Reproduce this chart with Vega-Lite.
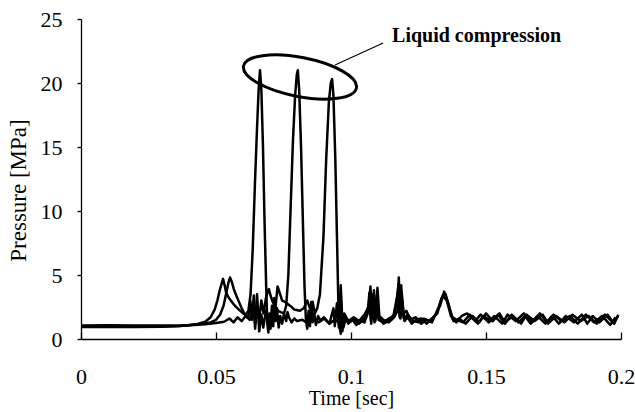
{
  "$schema": "https://vega.github.io/schema/vega-lite/v6.json",
  "width": 540,
  "height": 320,
  "autosize": {"type": "none"},
  "padding": {"left": 81, "top": 19, "right": 14, "bottom": 73},
  "background": "white",
  "config": {
    "view": {"stroke": null},
    "font": "Liberation Serif",
    "axis": {
      "labelColor": "black",
      "titleColor": "black",
      "domainColor": "black",
      "tickColor": "black",
      "grid": false,
      "titleFontWeight": "normal",
      "domainWidth": 1.3,
      "tickWidth": 1.3
    }
  },
  "layer": [
    {
      "data": {
        "values": [
          {"run": "A", "t": 0, "p": 1.0}, {"run": "A", "t": 0.01, "p": 1.0}, {"run": "A", "t": 0.02, "p": 1.0}, {"run": "A", "t": 0.03, "p": 1.0},
          {"run": "A", "t": 0.036, "p": 1.02}, {"run": "A", "t": 0.04, "p": 1.08}, {"run": "A", "t": 0.043, "p": 1.15}, {"run": "A", "t": 0.046, "p": 1.35},
          {"run": "A", "t": 0.048, "p": 1.7}, {"run": "A", "t": 0.0495, "p": 2.3}, {"run": "A", "t": 0.0505, "p": 3.0}, {"run": "A", "t": 0.0515, "p": 3.9},
          {"run": "A", "t": 0.0526, "p": 4.7}, {"run": "A", "t": 0.0532, "p": 4.2}, {"run": "A", "t": 0.0538, "p": 3.6}, {"run": "A", "t": 0.0545, "p": 3.3},
          {"run": "A", "t": 0.0555, "p": 3.0}, {"run": "A", "t": 0.057, "p": 2.6}, {"run": "A", "t": 0.0585, "p": 2.3}, {"run": "A", "t": 0.06, "p": 2.0},
          {"run": "A", "t": 0.061, "p": 1.9}, {"run": "A", "t": 0.062, "p": 2.2}, {"run": "A", "t": 0.0628, "p": 3.5}, {"run": "A", "t": 0.0636, "p": 7},
          {"run": "A", "t": 0.0644, "p": 12}, {"run": "A", "t": 0.0652, "p": 16.5}, {"run": "A", "t": 0.0658, "p": 19.5}, {"run": "A", "t": 0.0663, "p": 21.0},
          {"run": "A", "t": 0.0668, "p": 19.5}, {"run": "A", "t": 0.0674, "p": 15}, {"run": "A", "t": 0.068, "p": 9}, {"run": "A", "t": 0.0686, "p": 4},
          {"run": "A", "t": 0.069, "p": 1.2}, {"run": "A", "t": 0.0694, "p": 0.5}, {"run": "A", "t": 0.0698, "p": 2.0}, {"run": "A", "t": 0.0702, "p": 0.8},
          {"run": "A", "t": 0.0707, "p": 2.6}, {"run": "A", "t": 0.0712, "p": 1.0}, {"run": "A", "t": 0.0716, "p": 3.2}, {"run": "A", "t": 0.0721, "p": 1.4},
          {"run": "A", "t": 0.0726, "p": 2.4}, {"run": "A", "t": 0.0732, "p": 0.9}, {"run": "A", "t": 0.0738, "p": 1.8}, {"run": "A", "t": 0.0745, "p": 1.2},
          {"run": "A", "t": 0.0752, "p": 2.0}, {"run": "A", "t": 0.076, "p": 1.4}, {"run": "A", "t": 0.0765, "p": 2.1}, {"run": "A", "t": 0.077, "p": 1.7}, {"run": "A", "t": 0.078, "p": 1.3},
          {"run": "A", "t": 0.079, "p": 1.6}, {"run": "A", "t": 0.08, "p": 1.4}, {"run": "A", "t": 0.082, "p": 1.5}, {"run": "A", "t": 0.084, "p": 1.2},
          {"run": "A", "t": 0.086, "p": 1.6}, {"run": "A", "t": 0.088, "p": 1.3}, {"run": "A", "t": 0.09, "p": 1.7}, {"run": "A", "t": 0.092, "p": 1.2},
          {"run": "A", "t": 0.0935, "p": 2.4}, {"run": "A", "t": 0.094, "p": 1.0}, {"run": "A", "t": 0.0948, "p": 2.8}, {"run": "A", "t": 0.0955, "p": 0.9},
          {"run": "A", "t": 0.0962, "p": 4.2}, {"run": "A", "t": 0.0968, "p": 1.3}, {"run": "A", "t": 0.0975, "p": 2.0}, {"run": "A", "t": 0.099, "p": 1.4},
          {"run": "A", "t": 0.101, "p": 1.7}, {"run": "A", "t": 0.103, "p": 1.4}, {"run": "A", "t": 0.105, "p": 1.9}, {"run": "A", "t": 0.1065, "p": 2.5},
          {"run": "A", "t": 0.1072, "p": 4.1}, {"run": "A", "t": 0.1078, "p": 1.6}, {"run": "A", "t": 0.1085, "p": 3.8}, {"run": "A", "t": 0.109, "p": 1.5},
          {"run": "A", "t": 0.1098, "p": 4.0}, {"run": "A", "t": 0.1105, "p": 1.8}, {"run": "A", "t": 0.112, "p": 1.5}, {"run": "A", "t": 0.114, "p": 1.3},
          {"run": "A", "t": 0.116, "p": 1.7}, {"run": "A", "t": 0.1172, "p": 2.2}, {"run": "A", "t": 0.1177, "p": 4.8}, {"run": "A", "t": 0.1182, "p": 2.0},
          {"run": "A", "t": 0.1188, "p": 3.6}, {"run": "A", "t": 0.1195, "p": 1.6}, {"run": "A", "t": 0.121, "p": 1.9}, {"run": "A", "t": 0.123, "p": 1.4},
          {"run": "A", "t": 0.125, "p": 1.3}, {"run": "A", "t": 0.127, "p": 1.6}, {"run": "A", "t": 0.129, "p": 1.4}, {"run": "A", "t": 0.131, "p": 1.8},
          {"run": "A", "t": 0.133, "p": 2.6}, {"run": "A", "t": 0.1345, "p": 3.7}, {"run": "A", "t": 0.136, "p": 2.8}, {"run": "A", "t": 0.1375, "p": 1.6},
          {"run": "A", "t": 0.139, "p": 1.3}, {"run": "A", "t": 0.141, "p": 1.8}, {"run": "A", "t": 0.143, "p": 2.0}, {"run": "A", "t": 0.146, "p": 1.4},
          {"run": "A", "t": 0.148, "p": 1.9}, {"run": "A", "t": 0.151, "p": 1.3}, {"run": "A", "t": 0.153, "p": 1.8}, {"run": "A", "t": 0.156, "p": 1.2},
          {"run": "A", "t": 0.158, "p": 1.9}, {"run": "A", "t": 0.161, "p": 1.4}, {"run": "A", "t": 0.164, "p": 2.0}, {"run": "A", "t": 0.167, "p": 1.3},
          {"run": "A", "t": 0.169, "p": 1.8}, {"run": "A", "t": 0.172, "p": 1.2}, {"run": "A", "t": 0.175, "p": 1.9}, {"run": "A", "t": 0.178, "p": 1.4},
          {"run": "A", "t": 0.181, "p": 1.8}, {"run": "A", "t": 0.184, "p": 1.2}, {"run": "A", "t": 0.187, "p": 1.9}, {"run": "A", "t": 0.19, "p": 1.3},
          {"run": "A", "t": 0.193, "p": 1.8}, {"run": "A", "t": 0.196, "p": 1.1}, {"run": "A", "t": 0.198, "p": 1.7},

          {"run": "B", "t": 0, "p": 0.94}, {"run": "B", "t": 0.01, "p": 0.93}, {"run": "B", "t": 0.02, "p": 0.94}, {"run": "B", "t": 0.03, "p": 0.95},
          {"run": "B", "t": 0.037, "p": 1.02}, {"run": "B", "t": 0.041, "p": 1.12}, {"run": "B", "t": 0.045, "p": 1.2}, {"run": "B", "t": 0.048, "p": 1.3},
          {"run": "B", "t": 0.05, "p": 1.5}, {"run": "B", "t": 0.0515, "p": 1.9}, {"run": "B", "t": 0.0528, "p": 2.6}, {"run": "B", "t": 0.0538, "p": 3.6},
          {"run": "B", "t": 0.0546, "p": 4.4}, {"run": "B", "t": 0.0552, "p": 4.8}, {"run": "B", "t": 0.0558, "p": 4.5}, {"run": "B", "t": 0.0566, "p": 3.9},
          {"run": "B", "t": 0.0575, "p": 3.4}, {"run": "B", "t": 0.0585, "p": 2.9}, {"run": "B", "t": 0.0595, "p": 2.4}, {"run": "B", "t": 0.0605, "p": 2.0},
          {"run": "B", "t": 0.0613, "p": 1.7}, {"run": "B", "t": 0.062, "p": 1.8}, {"run": "B", "t": 0.0627, "p": 3.0}, {"run": "B", "t": 0.0633, "p": 1.5},
          {"run": "B", "t": 0.064, "p": 3.4}, {"run": "B", "t": 0.0646, "p": 1.2}, {"run": "B", "t": 0.0652, "p": 2.6}, {"run": "B", "t": 0.066, "p": 1.6},
          {"run": "B", "t": 0.0668, "p": 3.0}, {"run": "B", "t": 0.0676, "p": 2.0}, {"run": "B", "t": 0.0685, "p": 3.2}, {"run": "B", "t": 0.069, "p": 3.6},
          {"run": "B", "t": 0.0696, "p": 3.9}, {"run": "B", "t": 0.0702, "p": 3.4}, {"run": "B", "t": 0.071, "p": 2.9}, {"run": "B", "t": 0.072, "p": 2.5},
          {"run": "B", "t": 0.073, "p": 2.2}, {"run": "B", "t": 0.074, "p": 2.1}, {"run": "B", "t": 0.0752, "p": 2.0}, {"run": "B", "t": 0.076, "p": 2.6},
          {"run": "B", "t": 0.0768, "p": 5}, {"run": "B", "t": 0.0776, "p": 10}, {"run": "B", "t": 0.0785, "p": 15.5}, {"run": "B", "t": 0.0793, "p": 19},
          {"run": "B", "t": 0.0799, "p": 20.6}, {"run": "B", "t": 0.0803, "p": 21.0}, {"run": "B", "t": 0.0808, "p": 19.5}, {"run": "B", "t": 0.0815, "p": 15},
          {"run": "B", "t": 0.0822, "p": 9}, {"run": "B", "t": 0.0828, "p": 4}, {"run": "B", "t": 0.0833, "p": 1.5}, {"run": "B", "t": 0.0838, "p": 0.8},
          {"run": "B", "t": 0.0843, "p": 2.2}, {"run": "B", "t": 0.0848, "p": 1.0}, {"run": "B", "t": 0.0853, "p": 2.9}, {"run": "B", "t": 0.0858, "p": 1.3},
          {"run": "B", "t": 0.0864, "p": 2.0}, {"run": "B", "t": 0.087, "p": 1.1}, {"run": "B", "t": 0.0878, "p": 1.8}, {"run": "B", "t": 0.0888, "p": 1.4},
          {"run": "B", "t": 0.09, "p": 1.6}, {"run": "B", "t": 0.092, "p": 1.2}, {"run": "B", "t": 0.094, "p": 1.5}, {"run": "B", "t": 0.0955, "p": 1.3},
          {"run": "B", "t": 0.0962, "p": 3.1}, {"run": "B", "t": 0.0968, "p": 0.6}, {"run": "B", "t": 0.0975, "p": 1.8}, {"run": "B", "t": 0.099, "p": 1.3},
          {"run": "B", "t": 0.101, "p": 1.5}, {"run": "B", "t": 0.103, "p": 1.2}, {"run": "B", "t": 0.105, "p": 1.6}, {"run": "B", "t": 0.1068, "p": 2.8},
          {"run": "B", "t": 0.1074, "p": 1.4}, {"run": "B", "t": 0.108, "p": 3.5}, {"run": "B", "t": 0.1087, "p": 1.3}, {"run": "B", "t": 0.1095, "p": 2.9},
          {"run": "B", "t": 0.1102, "p": 1.5}, {"run": "B", "t": 0.112, "p": 1.3}, {"run": "B", "t": 0.114, "p": 1.6}, {"run": "B", "t": 0.116, "p": 1.8},
          {"run": "B", "t": 0.1175, "p": 3.8}, {"run": "B", "t": 0.118, "p": 1.7}, {"run": "B", "t": 0.1186, "p": 4.2}, {"run": "B", "t": 0.1192, "p": 1.9},
          {"run": "B", "t": 0.1205, "p": 2.2}, {"run": "B", "t": 0.122, "p": 1.5}, {"run": "B", "t": 0.124, "p": 1.7}, {"run": "B", "t": 0.126, "p": 1.2},
          {"run": "B", "t": 0.128, "p": 1.5}, {"run": "B", "t": 0.13, "p": 1.3}, {"run": "B", "t": 0.1325, "p": 2.5}, {"run": "B", "t": 0.134, "p": 3.4},
          {"run": "B", "t": 0.1355, "p": 3.0}, {"run": "B", "t": 0.137, "p": 1.8}, {"run": "B", "t": 0.139, "p": 1.5}, {"run": "B", "t": 0.1415, "p": 1.3},
          {"run": "B", "t": 0.144, "p": 1.9}, {"run": "B", "t": 0.147, "p": 1.2}, {"run": "B", "t": 0.149, "p": 1.8}, {"run": "B", "t": 0.152, "p": 1.4},
          {"run": "B", "t": 0.155, "p": 2.0}, {"run": "B", "t": 0.157, "p": 1.3}, {"run": "B", "t": 0.16, "p": 1.8}, {"run": "B", "t": 0.163, "p": 1.2},
          {"run": "B", "t": 0.165, "p": 1.9}, {"run": "B", "t": 0.168, "p": 1.4}, {"run": "B", "t": 0.171, "p": 1.9}, {"run": "B", "t": 0.173, "p": 1.2},
          {"run": "B", "t": 0.176, "p": 1.8}, {"run": "B", "t": 0.179, "p": 1.3}, {"run": "B", "t": 0.182, "p": 1.9}, {"run": "B", "t": 0.185, "p": 1.4},
          {"run": "B", "t": 0.188, "p": 1.8}, {"run": "B", "t": 0.191, "p": 1.2}, {"run": "B", "t": 0.194, "p": 1.9}, {"run": "B", "t": 0.197, "p": 1.3},
          {"run": "B", "t": 0.199, "p": 1.8},

          {"run": "C", "t": 0, "p": 1.06}, {"run": "C", "t": 0.01, "p": 1.07}, {"run": "C", "t": 0.02, "p": 1.06}, {"run": "C", "t": 0.03, "p": 1.05},
          {"run": "C", "t": 0.038, "p": 1.06}, {"run": "C", "t": 0.042, "p": 1.1}, {"run": "C", "t": 0.046, "p": 1.15}, {"run": "C", "t": 0.05, "p": 1.25},
          {"run": "C", "t": 0.053, "p": 1.35}, {"run": "C", "t": 0.055, "p": 1.6}, {"run": "C", "t": 0.0565, "p": 1.3}, {"run": "C", "t": 0.058, "p": 1.7},
          {"run": "C", "t": 0.0595, "p": 1.4}, {"run": "C", "t": 0.061, "p": 1.8}, {"run": "C", "t": 0.0625, "p": 1.5}, {"run": "C", "t": 0.0638, "p": 2.6},
          {"run": "C", "t": 0.0645, "p": 0.8}, {"run": "C", "t": 0.0652, "p": 3.5}, {"run": "C", "t": 0.066, "p": 0.6}, {"run": "C", "t": 0.0668, "p": 1.9},
          {"run": "C", "t": 0.0675, "p": 0.9}, {"run": "C", "t": 0.0685, "p": 2.2}, {"run": "C", "t": 0.0695, "p": 1.4}, {"run": "C", "t": 0.0705, "p": 1.9},
          {"run": "C", "t": 0.072, "p": 2.4}, {"run": "C", "t": 0.0728, "p": 4.1}, {"run": "C", "t": 0.0736, "p": 3.6}, {"run": "C", "t": 0.0745, "p": 3.0},
          {"run": "C", "t": 0.0756, "p": 2.9}, {"run": "C", "t": 0.0768, "p": 2.7}, {"run": "C", "t": 0.078, "p": 2.5}, {"run": "C", "t": 0.079, "p": 2.3},
          {"run": "C", "t": 0.081, "p": 2.2}, {"run": "C", "t": 0.0825, "p": 2.4}, {"run": "C", "t": 0.0838, "p": 3.0}, {"run": "C", "t": 0.0848, "p": 2.4},
          {"run": "C", "t": 0.0858, "p": 2.9}, {"run": "C", "t": 0.0866, "p": 2.0}, {"run": "C", "t": 0.0875, "p": 2.4}, {"run": "C", "t": 0.0885, "p": 3.5},
          {"run": "C", "t": 0.0898, "p": 8}, {"run": "C", "t": 0.0908, "p": 14}, {"run": "C", "t": 0.0918, "p": 18.5}, {"run": "C", "t": 0.0925, "p": 20.0},
          {"run": "C", "t": 0.093, "p": 20.3}, {"run": "C", "t": 0.0935, "p": 19}, {"run": "C", "t": 0.0942, "p": 14}, {"run": "C", "t": 0.0948, "p": 8},
          {"run": "C", "t": 0.0953, "p": 3}, {"run": "C", "t": 0.0957, "p": 1.0}, {"run": "C", "t": 0.0962, "p": 0.4}, {"run": "C", "t": 0.0967, "p": 1.8},
          {"run": "C", "t": 0.0972, "p": 0.9}, {"run": "C", "t": 0.098, "p": 1.6}, {"run": "C", "t": 0.099, "p": 1.2}, {"run": "C", "t": 0.1005, "p": 1.5},
          {"run": "C", "t": 0.102, "p": 1.1}, {"run": "C", "t": 0.1035, "p": 1.4}, {"run": "C", "t": 0.105, "p": 1.3}, {"run": "C", "t": 0.1062, "p": 2.0},
          {"run": "C", "t": 0.1068, "p": 3.6}, {"run": "C", "t": 0.1075, "p": 1.2}, {"run": "C", "t": 0.1082, "p": 3.0}, {"run": "C", "t": 0.109, "p": 1.4},
          {"run": "C", "t": 0.1097, "p": 3.3}, {"run": "C", "t": 0.1104, "p": 1.7}, {"run": "C", "t": 0.112, "p": 1.2}, {"run": "C", "t": 0.114, "p": 1.4},
          {"run": "C", "t": 0.1158, "p": 1.9}, {"run": "C", "t": 0.117, "p": 3.2}, {"run": "C", "t": 0.1176, "p": 4.3}, {"run": "C", "t": 0.1183, "p": 1.6},
          {"run": "C", "t": 0.119, "p": 3.0}, {"run": "C", "t": 0.1198, "p": 1.4}, {"run": "C", "t": 0.121, "p": 1.7}, {"run": "C", "t": 0.1225, "p": 1.2},
          {"run": "C", "t": 0.124, "p": 1.5}, {"run": "C", "t": 0.126, "p": 1.6}, {"run": "C", "t": 0.128, "p": 1.2}, {"run": "C", "t": 0.13, "p": 1.6},
          {"run": "C", "t": 0.132, "p": 2.0}, {"run": "C", "t": 0.1335, "p": 3.2}, {"run": "C", "t": 0.135, "p": 3.5}, {"run": "C", "t": 0.1365, "p": 2.4},
          {"run": "C", "t": 0.138, "p": 1.4}, {"run": "C", "t": 0.14, "p": 1.6}, {"run": "C", "t": 0.1425, "p": 1.2}, {"run": "C", "t": 0.145, "p": 1.8},
          {"run": "C", "t": 0.1475, "p": 1.3}, {"run": "C", "t": 0.15, "p": 2.0}, {"run": "C", "t": 0.1525, "p": 1.4}, {"run": "C", "t": 0.1545, "p": 1.9},
          {"run": "C", "t": 0.157, "p": 1.2}, {"run": "C", "t": 0.1595, "p": 1.9}, {"run": "C", "t": 0.162, "p": 1.3}, {"run": "C", "t": 0.1645, "p": 1.8},
          {"run": "C", "t": 0.1665, "p": 1.2}, {"run": "C", "t": 0.17, "p": 2.0}, {"run": "C", "t": 0.1725, "p": 1.3}, {"run": "C", "t": 0.1745, "p": 1.8},
          {"run": "C", "t": 0.177, "p": 1.2}, {"run": "C", "t": 0.1795, "p": 1.8}, {"run": "C", "t": 0.1825, "p": 1.3}, {"run": "C", "t": 0.1855, "p": 1.9},
          {"run": "C", "t": 0.1875, "p": 1.2}, {"run": "C", "t": 0.1895, "p": 1.8}, {"run": "C", "t": 0.192, "p": 1.3}, {"run": "C", "t": 0.195, "p": 1.9},
          {"run": "C", "t": 0.1975, "p": 1.2}, {"run": "C", "t": 0.199, "p": 1.9}
        ]
      },
      "mark": {"type": "line", "color": "black", "strokeWidth": 2.5, "strokeJoin": "round"},
      "encoding": {
        "x": {
          "field": "t", "type": "quantitative",
          "scale": {"domain": [0, 0.2], "nice": false, "zero": false},
          "axis": {
            "title": "Time [sec]",
            "values": [0, 0.05, 0.1, 0.15, 0.2],
            "format": "~g",
            "labelFont": "Times New Roman",
            "titleFont": "Liberation Serif",
            "labelFontSize": 22,
            "titleFontSize": 20,
            "tickSize": -7,
            "labelBaseline": "alphabetic",
            "labelPadding": 51,
            "labelFlush": false,
            "labelOverlap": false,
            "titleY": 65,
            "titleBaseline": "alphabetic"
          }
        },
        "y": {
          "field": "p", "type": "quantitative",
          "scale": {"domain": [0, 25], "nice": false},
          "axis": {
            "title": "Pressure [MPa]",
            "values": [0, 5, 10, 15, 20, 25],
            "labelFont": "Times New Roman",
            "titleFont": "Liberation Serif",
            "labelFontSize": 22,
            "titleFontSize": 23,
            "tickSize": 4,
            "labelPadding": 15,
            "labelFlush": false,
            "labelOverlap": false,
            "titleX": -63,
            "titleY": 171,
            "titleBaseline": "middle",
            "titleAlign": "center"
          }
        },
        "detail": {"field": "run", "type": "nominal"}
      }
    },
    {
      "data": {"values": [{"t": 0.0811, "p": 20.47}]},
      "mark": {
        "type": "point",
        "shape": "M -1 0 C -1 -0.1878 -0.5523 -0.34 0 -0.34 C 0.5523 -0.34 1 -0.1878 1 0 C 1 0.1878 0.5523 0.34 0 0.34 C -0.5523 0.34 -1 0.1878 -1 0 Z",
        "size": 13225,
        "angle": 11,
        "filled": false,
        "stroke": "black",
        "strokeWidth": 3,
        "opacity": 1
      },
      "encoding": {
        "x": {"field": "t", "type": "quantitative"},
        "y": {"field": "p", "type": "quantitative"}
      }
    },
    {
      "data": {"values": [{"t": 0.0941, "p": 21.41, "t2": 0.1119, "p2": 23.125}]},
      "mark": {"type": "rule", "color": "black", "strokeWidth": 1.2},
      "encoding": {
        "x": {"field": "t", "type": "quantitative"},
        "y": {"field": "p", "type": "quantitative"},
        "x2": {"field": "t2"},
        "y2": {"field": "p2"}
      }
    },
    {
      "data": {"values": [{"t": 0.1152, "p": 23.24, "label": "Liquid compression"}]},
      "mark": {"type": "text", "align": "left", "baseline": "alphabetic", "font": "Liberation Serif", "fontWeight": "bold", "fontSize": 20, "color": "black"},
      "encoding": {
        "x": {"field": "t", "type": "quantitative"},
        "y": {"field": "p", "type": "quantitative"},
        "text": {"field": "label"}
      }
    }
  ]
}
